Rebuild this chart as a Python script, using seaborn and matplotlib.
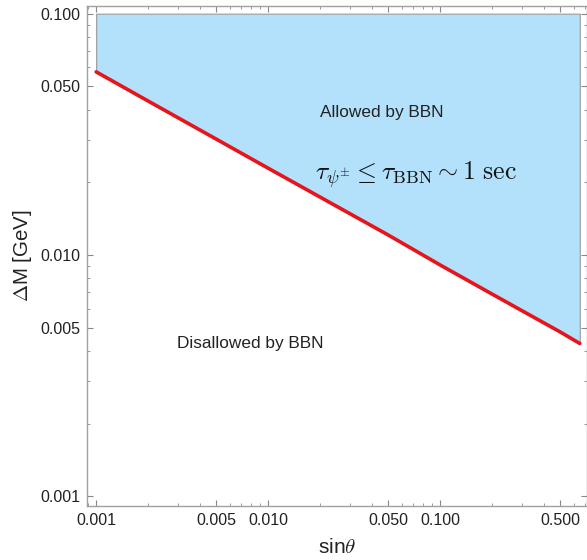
import numpy as np
import matplotlib.pyplot as plt
import matplotlib.ticker as mticker
import pandas as pd
import seaborn as sns

# BBN bound: Delta M vs sin(theta)
sin_theta = [0.001, 0.002, 0.005, 0.01, 0.02, 0.05, 0.1, 0.2, 0.5, 0.65]
delta_m = [0.0574, 0.0435, 0.0302, 0.0229, 0.0174, 0.0121, 0.0091, 0.0069, 0.0048, 0.0043]
y_top = 0.1

x_ticks = [0.001, 0.005, 0.010, 0.050, 0.100, 0.500]
x_ticklabels = ["0.001", "0.005", "0.010", "0.050", "0.100", "0.500"]
y_ticks = [0.001, 0.005, 0.010, 0.050, 0.100]
y_ticklabels = ["0.001", "0.005", "0.010", "0.050", "0.100"]

df = pd.DataFrame({"sin_theta": sin_theta, "delta_m": delta_m})

sns.set_theme(style="ticks")
plt.rcParams['font.family'] = ['Liberation Sans', 'DejaVu Sans']
plt.rcParams['mathtext.fontset'] = 'cm'

fig = plt.figure(figsize=(5.87, 5.60), dpi=100)
ax = fig.add_axes([0.148, 0.096, 0.852, 0.894])

ax.fill_between(df["sin_theta"], df["delta_m"], y_top, color="#b3e1fb",
                edgecolor="#9a9a9a", linewidth=0.8, zorder=1)
sns.lineplot(data=df, x="sin_theta", y="delta_m", color="#e8141c", linewidth=2.6, ax=ax, zorder=3)

ax.set_xscale("log")
ax.set_yscale("log")
ax.set_xlim(0.000883, 0.716)
ax.set_ylim(0.00091, 0.108)

ax.xaxis.set_major_locator(mticker.FixedLocator(x_ticks))
ax.xaxis.set_major_formatter(mticker.FixedFormatter(x_ticklabels))
ax.yaxis.set_major_locator(mticker.FixedLocator(y_ticks))
ax.yaxis.set_major_formatter(mticker.FixedFormatter(y_ticklabels))
ax.xaxis.set_minor_locator(mticker.LogLocator(base=10, subs=(2, 3, 4, 6, 7, 8, 9), numticks=20))
ax.yaxis.set_minor_locator(mticker.LogLocator(base=10, subs=(2, 3, 4, 6, 7, 8, 9), numticks=20))
ax.xaxis.set_minor_formatter(mticker.NullFormatter())
ax.yaxis.set_minor_formatter(mticker.NullFormatter())

ax.tick_params(which="both", direction="in", top=True, right=True, color="#888888",
               labelsize=11.5, labelcolor="#222222", pad=5)
ax.tick_params(which="major", length=4, width=0.8)
ax.tick_params(which="minor", length=2, width=0.6)
for s in ax.spines.values():
    s.set_color("#a0a0a0")
    s.set_linewidth(1.0)

ax.set_xlabel(r"sin$\theta$", fontsize=15, color="#222222", labelpad=7)
ax.set_ylabel(r"$\Delta$M [GeV]", fontsize=14.8, color="#222222", labelpad=4)

ax.text(0.046, 0.039, "Allowed by BBN", fontsize=12.4, color="#222222", ha="center", va="center")
ax.text(0.00785, 0.00428, "Disallowed by BBN", fontsize=12.4, color="#222222", ha="center", va="center")
ax.text(0.0724, 0.0215, r"$\tau_{\psi^{\pm}} \leq \tau_{\mathrm{BBN}} \sim 1\ \mathrm{sec}$",
        fontsize=18.5, color="#111111", ha="center", va="center")

plt.savefig("out.png", dpi=100)
